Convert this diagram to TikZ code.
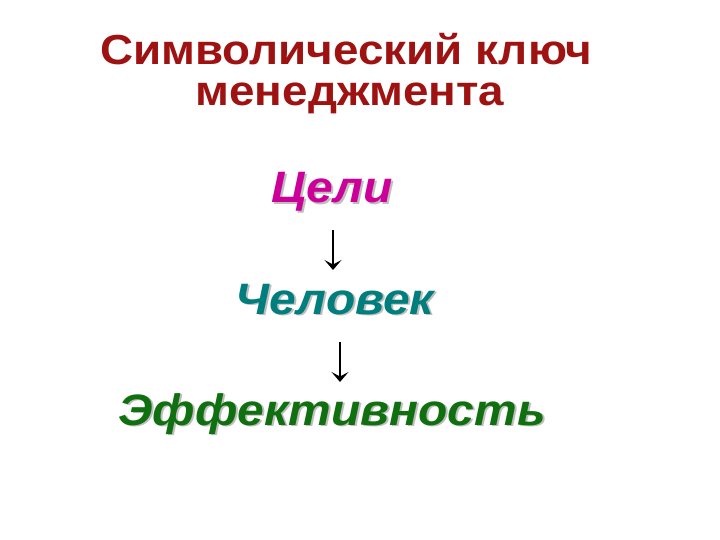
\documentclass[tikz,border=0pt]{standalone}
\usepackage{fontspec}
\usepackage{graphicx}
\setmainfont{Liberation Sans}
\usetikzlibrary{arrows.meta}
\definecolor{titlered}{RGB}{158,18,18}
\definecolor{goalmag}{RGB}{204,0,153}
\definecolor{manteal}{RGB}{0,125,125}
\definecolor{effgreen}{RGB}{16,112,16}
\definecolor{shadowgray}{RGB}{190,190,190}
\newcommand{\shadowed}[1]{\scalebox{1.09}[1]{\makebox[0pt][l]{\hspace{1.8pt}\raisebox{-1.8pt}{\color{shadowgray}#1}}#1}}
\newcommand{\wide}[1]{\scalebox{1.09}[1]{#1}}
\tikzset{
  word/.style={inner sep=0pt, anchor=base, font=\fontsize{44}{44}\selectfont\bfseries\itshape},
  titleline/.style={inner sep=0pt, anchor=base, text=titlered, font=\fontsize{42}{42}\selectfont\bfseries},
  link/.style={draw=black, line width=1.3pt, -{Stealth[length=10pt,width=17pt,inset=4.5pt]}}
}
\begin{document}
\begin{tikzpicture}[x=1pt,y=-1pt]
\useasboundingbox (0,0) rectangle (720,540);
\node[titleline] (t1) at (346,65) {\wide{Символический ключ}};
\node[titleline] (t2) at (350,106) {\wide{менеджмента}};
\node[word, text=goalmag] (g) at (332,203) {\shadowed{Цели}};
\node[word, text=manteal] (m) at (335,314) {\shadowed{Человек}};
\node[word, text=effgreen] (e) at (332,425) {\shadowed{Эффективность}};
\coordinate (a1s) at (333,230);
\coordinate (a1e) at (333,270);
\coordinate (a2s) at (340,342);
\coordinate (a2e) at (340,382);
\draw[link] (a1s) -- (a1e);
\draw[link] (a2s) -- (a2e);
\end{tikzpicture}
\end{document}
